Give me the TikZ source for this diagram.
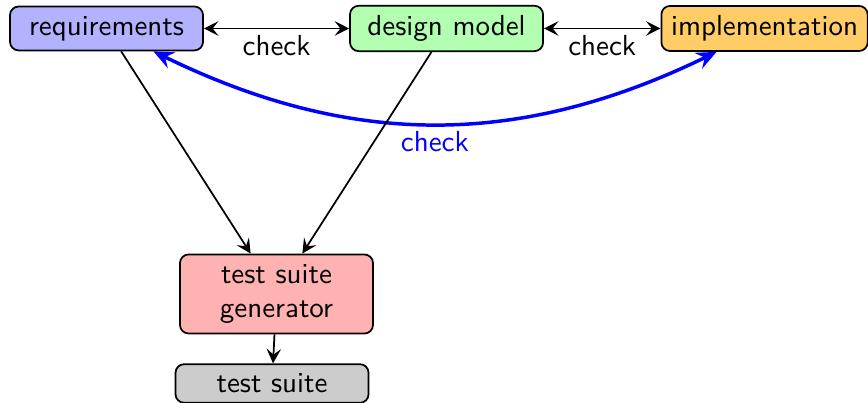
\documentclass[tikz,border=0pt]{standalone}
\usepackage{tikz}
\usetikzlibrary{calc,shapes,positioning}
\usetikzlibrary{arrows.meta}
\tikzset{>={Stealth[length=5pt,width=5pt,inset=2pt]}}
\definecolor{implfill}{RGB}{255,204,102}

\begin{document}
\begin{tikzpicture}[font=\sffamily]
        \tikzstyle{bnode} = [semithick, draw=black, rectangle, rounded corners=3pt, minimum width=2.34cm, align=center]
        \tikzstyle{lbl} = [below, inner sep=2pt]
        \useasboundingbox (0,0) rectangle (10.52,-4.884);

        \node[bnode, fill=blue!30] (reqs) at (1.291,-0.345) {requirements};
        \node[bnode, fill=green!30] (dsgn) at (5.412,-0.345) {design model};
        \node[bnode, fill=implfill] (impl) at (9.266,-0.345) {implementation};
        \node[bnode, fill=red!30] (tgen) at (3.351,-3.563) {test suite\\generator};
        \node[bnode, fill=black!20] (suite) at (3.297,-4.648) {test suite};

        \draw[<->,semithick] (reqs) -- node[lbl] {check} (dsgn);
        \draw[<->,semithick] (dsgn) -- node[lbl] {check} (impl);
        \draw[<->,blue,very thick,>={Stealth[length=7pt,width=6pt,inset=2.5pt]}] (reqs) to[bend right=26] node[lbl] {check} (impl);
        \draw[->,semithick] (reqs) -- (tgen);
        \draw[->,semithick] (dsgn) -- (tgen);
        \draw[->,semithick] (tgen) -- (suite);
      \end{tikzpicture}
\end{document}
